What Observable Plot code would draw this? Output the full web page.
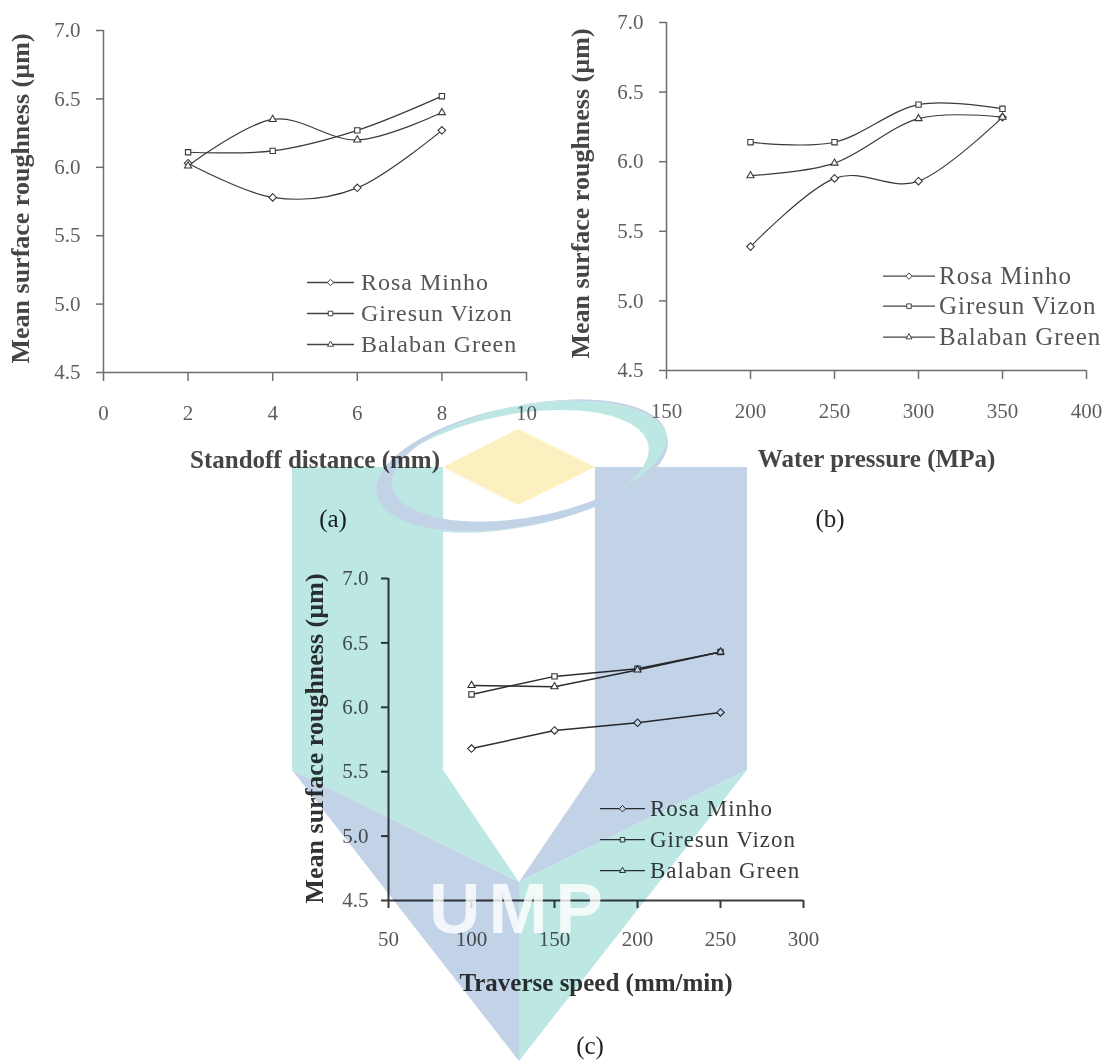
<!DOCTYPE html>
<html>
<head>
<meta charset="utf-8">
<script src="https://cdn.jsdelivr.net/npm/d3@7"></script>
<script src="https://cdn.jsdelivr.net/npm/@observablehq/plot@0.6"></script>
<style>
  body { margin: 0; background: #fff; }
  #page { position: relative; width: 1111px; height: 1061px; overflow: hidden; background: #fff; font-family: "Liberation Serif", "Times New Roman", serif; }
  .panel { position: absolute; }
  .legend { position: absolute; white-space: nowrap; }
  .legend .row { display: flex; align-items: center; }
  .legend svg { display: block; overflow: visible; }
  .plabel { position: absolute; font-size: 25px; color: #222; transform: translate(-50%, -50%); }
  #wm { position: absolute; left: 0; top: 0; mix-blend-mode: multiply; pointer-events: none; }
  #wmtext { position: absolute; left: 0; top: 0; pointer-events: none; }
</style>
</head>
<body>
<div id="page"></div>
<script>
// ---------------- data ----------------
const seriesNames = ["Rosa Minho", "Giresun Vizon", "Balaban Green"];
const yTicks = [4.5, 5.0, 5.5, 6.0, 6.5, 7.0];
const yLabel = "Mean surface roughness (\u00b5m)";

// (a) standoff distance
const standoffDistance = [2, 4, 6, 8];
const standoffTicks = [0, 2, 4, 6, 8, 10];
const roughnessA_rosa = [6.03, 5.78, 5.85, 6.27];
const roughnessA_giresun = [6.11, 6.12, 6.27, 6.52];
const roughnessA_balaban = [6.01, 6.35, 6.20, 6.40];

// (b) water pressure
const waterPressure = [200, 250, 300, 350];
const pressureTicks = [150, 200, 250, 300, 350, 400];
const roughnessB_rosa = [5.39, 5.88, 5.86, 6.32];
const roughnessB_giresun = [6.14, 6.14, 6.41, 6.38];
const roughnessB_balaban = [5.90, 5.99, 6.31, 6.32];

// (c) traverse speed
const traverseSpeed = [100, 150, 200, 250];
const speedTicks = [50, 100, 150, 200, 250, 300];
const roughnessC_rosa = [5.68, 5.82, 5.88, 5.96];
const roughnessC_giresun = [6.10, 6.24, 6.30, 6.43];
const roughnessC_balaban = [6.17, 6.16, 6.29, 6.43];

// ---------------- helpers ----------------
const page = document.getElementById("page");
const legendSymbols = [d3.symbolDiamond2, d3.symbolSquare2, d3.symbolTriangle2];

function rowsOf(xs, ys) {
  const rows = [];
  seriesNames.forEach((name, i) => xs.forEach((x, j) => rows.push({series: name, x, y: ys[i][j]})));
  return rows;
}

function makePanel(o) {
  const rows = rowsOf(o.xs, o.ys);
  const chart = Plot.plot({
    width: o.width, height: o.height,
    marginLeft: o.mL, marginRight: o.mR, marginTop: o.mT, marginBottom: o.mB,
    style: {fontFamily: '"Liberation Serif", "Times New Roman", serif', background: "transparent", overflow: "visible"},
    x: {domain: [o.xTicks[0], o.xTicks[o.xTicks.length - 1]]},
    y: {domain: [4.5, 7.0]},
    symbol: {domain: seriesNames, range: ["diamond2", "square2", "triangle2"]},
    marks: [
      Plot.axisX(o.xTicks, {tickSize: o.xTickSize, tickPadding: o.xTickPad, fontSize: 21, stroke: o.axisColor, strokeWidth: o.axisWidth, fill: o.tickColor, label: null}),
      Plot.axisY(yTicks, {tickSize: 7, tickPadding: o.yTickPad, fontSize: 21, tickFormat: d3.format(".1f"), stroke: o.axisColor, strokeWidth: o.axisWidth, fill: o.tickColor, label: null}),
      Plot.ruleY([4.5], {stroke: o.axisColor, strokeWidth: o.axisWidth}),
      Plot.ruleX([o.xTicks[0]], {stroke: o.axisColor, strokeWidth: o.axisWidth}),
      Plot.line(rows, {x: "x", y: "y", z: "series", curve: o.curve, stroke: o.lineColor, strokeWidth: o.lineWidth}),
      Plot.dot(rows, {x: "x", y: "y", symbol: "series", r: 3.4, fill: "white", stroke: o.lineColor, strokeWidth: 1.1}),
      Plot.text([o.xLabel], {text: d => d, frameAnchor: "bottom", textAnchor: "middle", lineAnchor: "middle", dy: o.xTitleDy, fontSize: 25, fontWeight: "bold", fill: o.titleColor}),
      Plot.text([yLabel], {text: d => d, frameAnchor: "left", textAnchor: "middle", lineAnchor: "middle", dx: o.yTitleDx, dy: o.yTitleDy, rotate: -90, fontSize: 26, fontWeight: "bold", fill: o.titleColor})
    ]
  });
  const wrap = document.createElement("div");
  wrap.className = "panel";
  wrap.style.left = o.left + "px";
  wrap.style.top = o.top + "px";
  wrap.appendChild(chart);
  page.appendChild(wrap);
}

function makeLegend(o) {
  const div = document.createElement("div");
  div.className = "legend";
  div.style.left = o.left + "px";
  div.style.top = o.top + "px";
  div.style.fontSize = o.fontSize + "px";
  div.style.color = o.color;
  seriesNames.forEach((name, i) => {
    const row = document.createElement("div");
    row.className = "row";
    row.style.height = o.rowH + "px";
    const svg = d3.create("svg").attr("width", o.lineW).attr("height", o.rowH);
    svg.append("line").attr("x1", 0).attr("x2", o.lineW).attr("y1", o.rowH / 2).attr("y2", o.rowH / 2)
      .attr("stroke", o.lineColor).attr("stroke-width", 1.3);
    svg.append("path").attr("d", d3.symbol(legendSymbols[i], 26)())
      .attr("transform", `translate(${o.lineW / 2},${o.rowH / 2})`)
      .attr("fill", "white").attr("stroke", o.lineColor).attr("stroke-width", 1);
    row.appendChild(svg.node());
    const span = document.createElement("span");
    span.textContent = name;
    span.style.marginLeft = o.gap + "px";
    span.style.letterSpacing = "1px";
    span.style.lineHeight = o.rowH + "px";
    row.appendChild(span);
    div.appendChild(row);
  });
  page.appendChild(div);
}

function panelLabel(text, x, y) {
  const d = document.createElement("div");
  d.className = "plabel";
  d.textContent = text;
  d.style.left = x + "px";
  d.style.top = y + "px";
  page.appendChild(d);
}

// ---------------- panels ----------------
makePanel({
  left: 0, top: 0, width: 545, height: 480, mL: 103, mR: 19, mT: 30, mB: 108,
  xs: standoffDistance, ys: [roughnessA_rosa, roughnessA_giresun, roughnessA_balaban],
  xTicks: standoffTicks, xTickSize: 9, xTickPad: 24, yTickPad: 16,
  curve: "cardinal", lineColor: "#3a3a3a", lineWidth: 1.2,
  axisColor: "#6e6e6e", axisWidth: 1.5, tickColor: "#5e5e5e", titleColor: "#454545",
  xLabel: "Standoff distance (mm)", xTitleDy: 87, yTitleDx: -83, yTitleDy: -3
});
makePanel({
  left: 550, top: 0, width: 561, height: 480, mL: 116, mR: 25, mT: 22, mB: 110,
  xs: waterPressure, ys: [roughnessB_rosa, roughnessB_giresun, roughnessB_balaban],
  xTicks: pressureTicks, xTickSize: 9, xTickPad: 24, yTickPad: 16,
  curve: "cardinal", lineColor: "#3a3a3a", lineWidth: 1.2,
  axisColor: "#6e6e6e", axisWidth: 1.5, tickColor: "#5e5e5e", titleColor: "#454545",
  xLabel: "Water pressure (MPa)", xTitleDy: 88, yTitleDx: -86, yTitleDy: -3
});
makePanel({
  left: 280, top: 540, width: 560, height: 480, mL: 108, mR: 37, mT: 38, mB: 120,
  xs: traverseSpeed, ys: [roughnessC_rosa, roughnessC_giresun, roughnessC_balaban],
  xTicks: speedTicks, xTickSize: 8, xTickPad: 23, yTickPad: 13,
  curve: "linear", lineColor: "#2e2e2e", lineWidth: 1.5,
  axisColor: "#3a3a3a", axisWidth: 2, tickColor: "#555", titleColor: "#333",
  xLabel: "Traverse speed (mm/min)", xTitleDy: 82, yTitleDx: -74, yTitleDy: -1
});

makeLegend({left: 307, top: 267, rowH: 31, lineW: 47, gap: 7, fontSize: 24, color: "#555", lineColor: "#444"});
makeLegend({left: 883, top: 261, rowH: 30.3, lineW: 52, gap: 4, fontSize: 25, color: "#555", lineColor: "#444"});
makeLegend({left: 600, top: 792.5, rowH: 31.4, lineW: 45, gap: 5, fontSize: 23, color: "#3c3c3c", lineColor: "#333"});

panelLabel("(a)", 333, 519);
panelLabel("(b)", 830, 519);
panelLabel("(c)", 590, 1046);

// ---------------- watermark (decorative background logo) ----------------
const wm = d3.create("svg").attr("id", "wm").attr("width", 1111).attr("height", 1061);
const teal = "#bde7e3", blue = "#c3d3e7", yellow = "#fdf0c0";
wm.append("polygon").attr("points", "292,467 443,467 443,770 519,882 292,770").attr("fill", teal);
wm.append("polygon").attr("points", "595,467 747,467 747,770 519,882 595,770").attr("fill", blue);
wm.append("polygon").attr("points", "292,770 519,882 519,1061").attr("fill", blue);
wm.append("polygon").attr("points", "747,770 519,882 519,1061").attr("fill", teal);
wm.append("polygon").attr("points", "443,467 518,429 595,467 518,505").attr("fill", yellow);
function ell(cx, cy, rx, ry) {
  return `M${cx - rx},${cy} a${rx},${ry} 0 1,0 ${2 * rx},0 a${rx},${ry} 0 1,0 ${-2 * rx},0 Z`;
}
const ring = wm.append("g").attr("transform", "rotate(-11,522,466)");
ring.append("path").attr("d", ell(522, 466, 148, 60) + ell(512, 469.5, 138, 56.5)).attr("fill-rule", "evenodd").attr("fill", teal);
ring.append("path").attr("d", ell(522, 466, 148, 60) + ell(530.5, 462, 139.5, 56)).attr("fill-rule", "evenodd").attr("fill", blue);
page.appendChild(wm.node());

const wt = d3.create("svg").attr("id", "wmtext").attr("width", 1111).attr("height", 1061);
wt.append("text").attr("x", 520).attr("y", 933).attr("text-anchor", "middle")
  .attr("font-family", '"Liberation Sans", Arial, sans-serif').attr("font-weight", "bold")
  .attr("font-size", 71).attr("letter-spacing", 8).attr("fill", "white").attr("fill-opacity", 0.8)
  .text("UMP");
page.appendChild(wt.node());
</script>
</body>
</html>
